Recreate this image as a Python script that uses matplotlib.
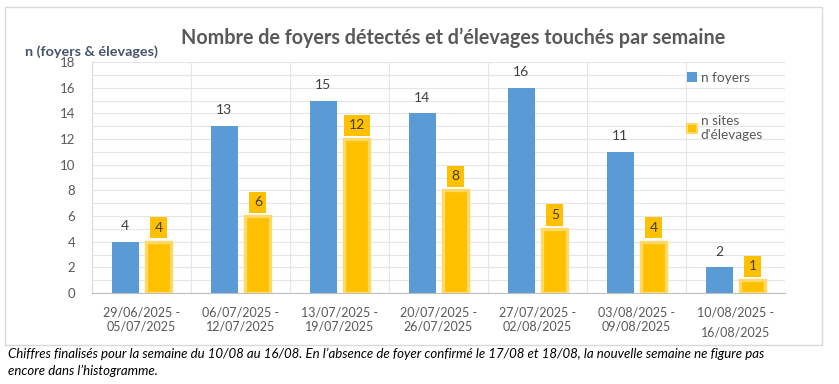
import matplotlib
matplotlib.use("Agg")
import matplotlib.pyplot as plt
import numpy as np
from matplotlib.patches import Rectangle, Patch

weeks = ["29/06/2025 -\n05/07/2025", "06/07/2025 -\n12/07/2025", "13/07/2025 -\n19/07/2025",
         "20/07/2025 -\n26/07/2025", "27/07/2025 -\n02/08/2025", "03/08/2025 -\n09/08/2025",
         "10/08/2025 -\n16/08/2025"]
foyers = [4, 13, 15, 14, 16, 11, 2]
sites = [4, 6, 12, 8, 5, 4, 1]

title = "Nombre de foyers détectés et d’élevages touchés par semaine"
ylabel = "n (foyers & élevages)"
legend_labels = ["n foyers", "n sites\nd'élevages"]
footnote = ("Chiffres finalisés pour la semaine du 10/08 au 16/08. En l’absence de foyer confirmé le 17/08 et 18/08, la nouvelle semaine ne figure pas\n"
            "encore dans l’histogramme.")

BLUE = "#5B9BD5"
GOLD = "#FFC000"
GOLD_EDGE = "#FFD966"
TXT = "#595959"

plt.rcParams['font.family'] = ['Lato', 'DejaVu Sans']

fig = plt.figure(figsize=(8.39, 3.84), dpi=100)
W, H = 839, 384
ax = fig.add_axes([92 / W, 1 - 293 / H, (785 - 92) / W, (293 - 62) / H])

# outer chart border
fig.patches.append(Rectangle((5 / W, 1 - 345 / H), (822 - 5) / W, (345 - 7) / H,
                             transform=fig.transFigure, fill=False, edgecolor="#D9D9D9", lw=1))

x = np.arange(len(foyers))
bb = ax.bar(x - 0.165, foyers, width=0.27, color=BLUE, zorder=3)
yb = ax.bar(x + 0.175, sites, width=0.25, color=GOLD, edgecolor=GOLD_EDGE, linewidth=2.4, zorder=3)

for xi, v in zip(x, foyers):
    ax.annotate(str(v), (xi - 0.165, v), xytext=(0, 7), textcoords="offset points",
                ha="center", va="bottom", fontsize=10, color="#404040", zorder=4)
for xi, v in zip(x, sites):
    ax.annotate(str(v), (xi + 0.175, v), xytext=(0, 10), textcoords="offset points",
                ha="center", va="center", fontsize=10, color="#404040", zorder=4,
                bbox=dict(boxstyle="square,pad=0.33", facecolor=GOLD, edgecolor="none"))

ax.set_xlim(-0.5, len(foyers) - 0.5)
ax.set_ylim(0, 18)
ax.set_yticks(np.arange(0, 19, 2))
ax.set_yticks(np.arange(0, 19, 1), minor=True)
ax.set_xticks(x)
ax.set_xticks(np.arange(-0.5, len(foyers), 0.5), minor=True)
ax.set_xticklabels(weeks, fontsize=9, color=TXT, linespacing=1.15)
ax.get_xticklabels()[-1].set_linespacing(1.75)
ax.tick_params(axis="both", which="both", length=0)
ax.tick_params(axis="y", labelsize=9.5, labelcolor=TXT, pad=12)
ax.tick_params(axis="x", pad=10)
ax.grid(True, which="both", axis="y", color="#E6E6E6", lw=0.8, zorder=0)
ax.grid(True, which="minor", axis="x", color="#E6E6E6", lw=0.8, zorder=0)
ax.set_axisbelow(True)
for s in ["top", "right"]:
    ax.spines[s].set_visible(False)
ax.spines["left"].set_color("#D9D9D9")
ax.spines["bottom"].set_color("#BFBFBF")

fig.text(0.5 * (180 + 727) / W, 1 - 38 / H, title, ha="center", va="center",
         fontsize=14.2, fontweight="bold", color=TXT)
fig.text(25 / W, 1 - 52 / H, ylabel, ha="left", va="center",
         fontsize=10.4, fontweight="bold", color="#44546A")

handles = [Patch(facecolor=BLUE, edgecolor="none"),
           Patch(facecolor=GOLD, edgecolor=GOLD_EDGE, linewidth=1.5)]
leg = ax.legend(handles, legend_labels, loc="upper left", bbox_to_anchor=(687 / W, 1 - 72 / H),
                bbox_transform=fig.transFigure, frameon=False, fontsize=9.8, labelcolor=TXT,
                handlelength=0.7, handleheight=0.7, handletextpad=0.3, labelspacing=2.3,
                borderaxespad=0, borderpad=0)

fig.text(8 / W, 1 - 362 / H, footnote, ha="left", va="center", fontsize=9.5,
         style="italic", color="black", linespacing=1.45)

fig.savefig("out.png", dpi=100)
